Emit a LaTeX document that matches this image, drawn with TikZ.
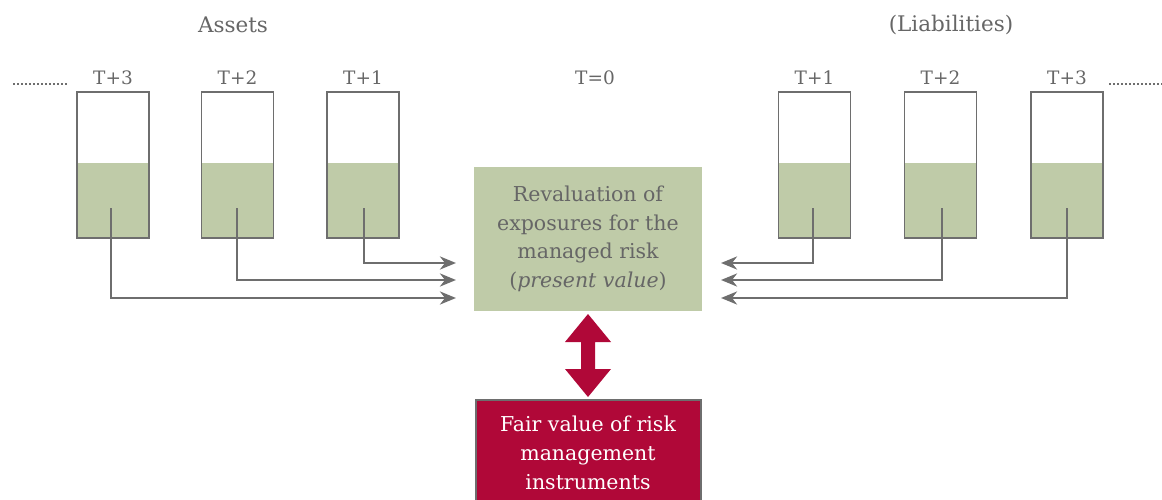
\documentclass[tikz,border=0pt]{standalone}
\usepackage{fontspec}
\setmainfont{DejaVu Serif}
\usetikzlibrary{arrows.meta,calc}
\definecolor{sage}{HTML}{BFCBA8}
\definecolor{txt}{HTML}{666666}
\definecolor{edge}{HTML}{6E6E6E}
\definecolor{wine}{HTML}{B00838}
\tikzset{
  bucket/.style={draw=edge,line width=1.2pt,minimum width=72pt,minimum height=146pt,inner sep=0pt},
  tlabel/.style={text=txt,font=\fontsize{18.5}{22}\selectfont,inner sep=0pt},
  conn/.style={draw=edge,line width=2.8pt,-{Stealth[length=16pt,width=13pt,inset=5pt]}},
  dots/.style={draw=edge,line width=1.6pt,dash pattern=on 1.6pt off 2.4pt}
}
\begin{document}
\begin{tikzpicture}[x=1pt,y=-1pt]
\useasboundingbox (0,0) rectangle (1162,500);
% titles
\node[tlabel,font=\fontsize{21.5}{24}\selectfont] (assets) at (233,25) {Assets};
\node[tlabel,font=\fontsize{21.5}{24}\selectfont] (liab) at (951,25) {(Liabilities)};
\node[tlabel] (t0) at (595,78) {T=0};
% buckets
\foreach \n/\x/\lab in {a3/113/T+3,a2/237.5/T+2,a1/363/T+1,l1/814.5/T+1,l2/940.5/T+2,l3/1067/T+3}{
  \node[bucket] (\n) at (\x,165) {};
  \fill[sage] (\n.south west) rectangle ($(\n.north east)+(0,72)$);
  \node[bucket] at (\n) {};
  \node[tlabel] (\n lab) at (\x,78) {\lab};
}
% dotted leaders
\coordinate (dl1) at (13,84); \coordinate (dl2) at (67,84);
\coordinate (dr1) at (1109,84); \coordinate (dr2) at (1162,84);
\draw[dots] (dl1) -- (dl2);
\draw[dots] (dr1) -- (dr2);
% central box
\node[fill=sage,minimum width=228pt,minimum height=144pt,inner sep=0pt,text=txt,
      align=center,font=\fontsize{20.5}{28.5}\selectfont] (rev) at (588,239)
  {Revaluation of\\exposures for the\\managed risk\\(\textit{present value})};
% red box
\node[fill=wine,draw=edge,line width=2pt,minimum width=225pt,minimum height=124pt,inner sep=0pt,
      anchor=north,text=white,align=center] (fv) at (588,399) {};
\node[text=white,align=center,font=\fontsize{20.5}{29}\selectfont,inner sep=0pt] (fvtext) at (588,453)
  {Fair value of risk\\management\\instruments};
% double arrow
\fill[wine] (588,314) -- (611,342) -- (595,342) -- (595,369) -- (611,369) -- (588,397)
  -- (565,369) -- (581,369) -- (581,342) -- (565,342) -- cycle;
% connectors
\coordinate (sa3) at (111,208); \coordinate (ea3) at (456,298);
\coordinate (sa2) at (237,208); \coordinate (ea2) at (456,280);
\coordinate (sa1) at (364,208); \coordinate (ea1) at (456,263);
\coordinate (sl1) at (813,208); \coordinate (el1) at (721,263);
\coordinate (sl2) at (942,208); \coordinate (el2) at (721,280);
\coordinate (sl3) at (1067,208); \coordinate (el3) at (721,298);
\foreach \s/\e in {sa3/ea3,sa2/ea2,sa1/ea1,sl1/el1,sl2/el2,sl3/el3}{
  \draw[conn] (\s) |- (\e);
}
\end{tikzpicture}
\end{document}
